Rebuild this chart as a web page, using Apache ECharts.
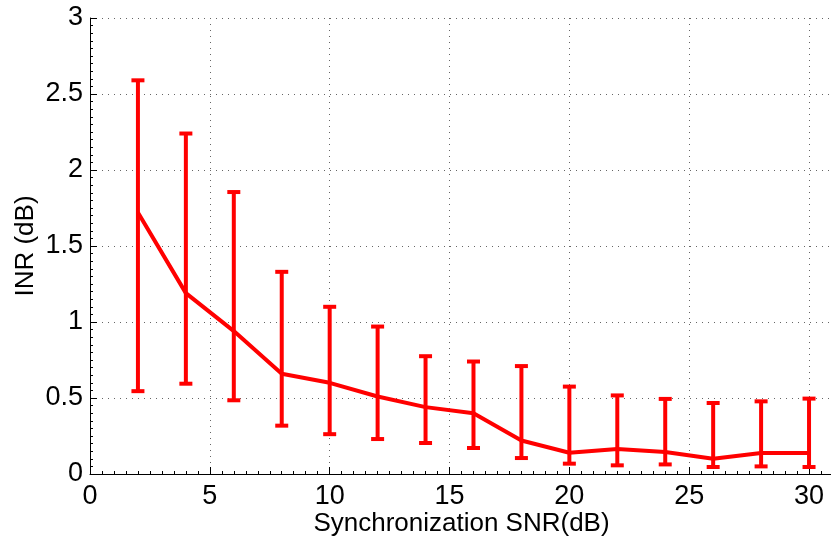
<!DOCTYPE html>
<html>
<head>
<meta charset="utf-8">
<script src="https://cdn.jsdelivr.net/npm/echarts@6/dist/echarts.min.js"></script>
<style>
  html, body { margin: 0; padding: 0; background: #fff; }
  #chart { width: 831px; height: 542px; }
</style>
</head>
<body>
<div id="chart"></div>
<script>
// Synchronization SNR (dB) sample points
var snr = [2, 4, 6, 8, 10, 12, 14, 16, 18, 20, 22, 24, 26, 28, 30];
// Mean INR (dB)
var inrMean = [1.72, 1.19, 0.94, 0.66, 0.60, 0.51, 0.44, 0.40, 0.22, 0.14, 0.165, 0.145, 0.10, 0.138, 0.138];
// Error bar upper bounds
var inrUpper = [2.59, 2.24, 1.855, 1.33, 1.10, 0.97, 0.775, 0.74, 0.71, 0.575, 0.517, 0.494, 0.467, 0.478, 0.496];
// Error bar lower bounds
var inrLower = [0.545, 0.594, 0.485, 0.318, 0.262, 0.23, 0.204, 0.171, 0.105, 0.068, 0.057, 0.063, 0.046, 0.05, 0.046];

var RED = '#ff0000';
var FONT = 'Liberation Sans, Arial, Helvetica, sans-serif';

var meanData = snr.map(function (x, i) { return [x, inrMean[i]]; });
var barData = snr.map(function (x, i) { return [x, inrLower[i], inrUpper[i]]; });

var chart = echarts.init(document.getElementById('chart'), null, { renderer: 'canvas' });

var gridStyle = { show: true, lineStyle: { color: '#666', width: 1, type: [1, 5] } };

chart.setOption({
  animation: false,
  backgroundColor: '#ffffff',
  grid: {
    left: 90, top: 18, width: 743, height: 456,
    containLabel: false,
    outerBoundsMode: 'none'
  },
  xAxis: {
    type: 'value',
    min: 0, max: 31, interval: 5,
    name: 'Synchronization SNR(dB)',
    nameLocation: 'middle',
    nameGap: 37,
    nameMoveOverlap: false,
    nameTextStyle: { fontFamily: FONT, fontSize: 26, color: '#000' },
    axisLine: { show: true, onZero: false, lineStyle: { color: '#000', width: 1 } },
    axisTick: { show: true, inside: true, length: 7, lineStyle: { color: '#000' } },
    minorTick: { show: true, splitNumber: 10, length: 3, lineStyle: { color: '#000' } },
    axisLabel: {
      fontFamily: FONT, fontSize: 27, color: '#000', margin: 9,
      showMaxLabel: false,
      formatter: function (v) { return v % 5 === 0 ? String(v) : ''; }
    },
    splitLine: gridStyle
  },
  yAxis: {
    type: 'value',
    min: 0, max: 3, interval: 0.5,
    name: 'INR (dB)',
    nameLocation: 'middle',
    nameGap: 51,
    nameMoveOverlap: false,
    nameRotate: 90,
    nameTextStyle: { fontFamily: FONT, fontSize: 26, color: '#000' },
    axisLine: { show: true, lineStyle: { color: '#000', width: 1 } },
    axisTick: { show: true, inside: true, length: 7, lineStyle: { color: '#000' } },
    minorTick: { show: true, splitNumber: 10, length: 3, lineStyle: { color: '#000' } },
    axisLabel: { fontFamily: FONT, fontSize: 27, color: '#000', margin: 7 },
    splitLine: gridStyle
  },
  series: [
    {
      type: 'custom',
      name: 'range',
      data: barData,
      z: 3,
      clip: false,
      renderItem: function (params, api) {
        var x = api.value(0);
        var lo = api.coord([x, api.value(1)]);
        var hi = api.coord([x, api.value(2)]);
        var half = 6.5;
        var st = { stroke: RED, lineWidth: 4 };
        return {
          type: 'group',
          children: [
            { type: 'line', shape: { x1: lo[0], y1: lo[1], x2: hi[0], y2: hi[1] }, style: st },
            { type: 'line', shape: { x1: hi[0] - half, y1: hi[1], x2: hi[0] + half, y2: hi[1] }, style: st },
            { type: 'line', shape: { x1: lo[0] - half, y1: lo[1], x2: lo[0] + half, y2: lo[1] }, style: st }
          ]
        };
      }
    },
    {
      type: 'line',
      name: 'mean',
      data: meanData,
      z: 4,
      symbol: 'none',
      lineStyle: { color: RED, width: 4 }
    }
  ]
});
</script>
</body>
</html>
